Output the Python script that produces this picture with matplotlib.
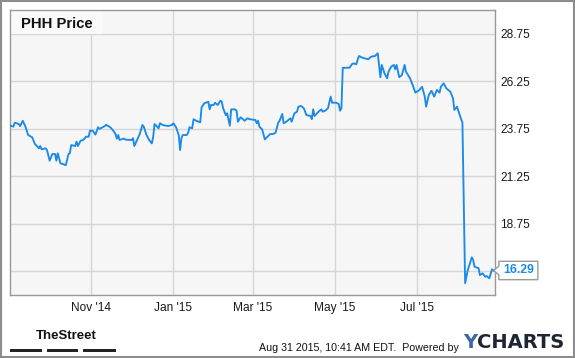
import pandas as pd
import numpy as np
import matplotlib.pyplot as plt
import matplotlib.dates as mdates
import matplotlib.transforms as mtransforms
from matplotlib.patches import Rectangle, Polygon

# days after 2014-09-01 and closing price
days = [1, 3, 4, 7, 8, 10, 12, 14, 17, 19, 22, 23, 24, 27, 28, 30, 32, 34, 35, 36,
        38, 40, 42, 44, 45, 46, 49, 50, 51, 53, 55, 57, 59, 60, 62, 64, 66, 67, 71, 72,
        75, 77, 79, 80, 81, 82, 85, 87, 91, 92, 93, 95, 97, 99, 100, 102, 104, 106, 107, 108,
        110, 111, 112, 114, 118, 121, 122, 124, 126, 127, 128, 129, 132, 133, 134, 136, 137, 139, 142, 143,
        145, 148, 149, 150, 152, 153, 155, 157, 158, 159, 161, 162, 164, 165, 168, 169, 170, 172, 173, 175,
        177, 179, 183, 184, 185, 186, 188, 189, 190, 192, 194, 196, 198, 200, 201, 203, 204, 206, 209, 210,
        212, 214, 215, 217, 219, 221, 224, 225, 226, 227, 230, 232, 233, 235, 237, 239, 240, 243, 245, 246,
        247, 248, 251, 253, 255, 256, 258, 260, 262, 264, 267, 269, 272, 274, 276, 277, 279, 281, 282, 284,
        286, 287, 288, 290, 292, 294, 295, 298, 300, 302, 305, 307, 309, 310, 312, 314, 316, 318, 320, 321,
        323, 325, 328, 330, 331, 333, 335, 337, 339, 341, 344, 345, 346, 349, 350, 352, 354, 355, 357, 359,
        360]
price = [23.91, 23.86, 24.07, 24.00, 23.89, 24.17, 23.86, 23.42, 23.30, 22.95, 22.72, 22.84, 22.67, 22.72, 22.63, 22.07, 22.42, 22.42, 22.07, 22.46,
         21.93, 21.89, 21.83, 22.42, 22.46, 22.89, 22.84, 23.07, 22.84, 23.12, 23.16, 23.33, 23.33, 23.65, 23.65, 23.44, 23.83, 23.74, 23.89, 23.96,
         23.83, 23.68, 23.47, 23.23, 23.42, 23.16, 23.23, 23.17, 23.16, 23.25, 22.84, 23.16, 23.47, 23.95, 23.86, 23.42, 23.16, 22.98, 23.33, 24.00,
         23.86, 23.77, 24.04, 23.95, 23.89, 23.95, 24.04, 23.83, 23.42, 22.63, 23.25, 23.42, 23.42, 23.54, 23.83, 23.77, 24.25, 24.17, 24.09, 24.88,
         25.09, 25.17, 24.77, 25.00, 25.00, 25.12, 25.00, 25.23, 25.17, 24.83, 24.47, 24.56, 23.91, 24.77, 24.77, 24.70, 24.12, 24.35, 24.30, 24.17,
         24.30, 24.25, 24.21, 24.04, 24.17, 23.86, 23.72, 23.47, 23.19, 23.33, 23.47, 23.47, 23.54, 24.07, 24.17, 24.53, 24.04, 24.12, 24.30, 24.12,
         24.56, 24.65, 24.91, 24.95, 24.83, 24.47, 24.42, 24.25, 24.77, 24.42, 24.65, 24.77, 24.65, 24.70, 24.83, 25.44, 25.12, 25.12, 25.05, 24.70,
         24.83, 26.96, 26.96, 26.96, 27.16, 27.19, 27.14, 27.58, 27.51, 27.46, 27.41, 27.54, 27.58, 27.72, 26.46, 27.11, 26.67, 26.41, 26.75, 27.02,
         27.11, 26.88, 27.11, 26.46, 26.58, 27.11, 26.75, 26.41, 26.05, 25.65, 25.79, 25.96, 25.44, 24.91, 25.53, 25.75, 25.44, 25.79, 25.65, 25.96,
         26.14, 25.88, 25.70, 25.35, 24.74, 24.91, 24.47, 24.07, 15.62, 16.32, 16.98, 16.84, 16.49, 16.41, 16.05, 16.14, 15.96, 16.00, 15.88, 16.35,
         16.29]

start = pd.Timestamp('2014-09-01')
dates = start + pd.to_timedelta(days, unit='D')

yticks = [16.25, 18.75, 21.25, 23.75, 26.25, 28.75]
xtick_dates = pd.to_datetime(['2014-11-01', '2015-01-01', '2015-03-01', '2015-05-01', '2015-07-01'])
xtick_labels = ["Nov '14", "Jan '15", "Mar '15", "May '15", "Jul '15"]

plt.rcParams['font.family'] = ['Liberation Sans', 'DejaVu Sans']

blue = '#1b8ae8'
fig = plt.figure(figsize=(5.75, 3.58), dpi=100)
fig.patches.append(Rectangle((0.002, 0.003), 0.996, 0.994, transform=fig.transFigure,
                             fill=False, edgecolor='#8c8c8c', linewidth=1.5))

ax = fig.add_axes([10 / 575, 1 - 295 / 358, 484.7 / 575, 285 / 358])
ax.set_facecolor('#f6f6f6')
ax.plot(dates, price, color=blue, linewidth=1.35, zorder=3)

ax.set_ylim(15, 30)
ax.set_xlim(start + pd.Timedelta(days=0.5), start + pd.Timedelta(days=361))
ax.set_yticks(yticks)
# the lowest label sits under the last-value flag in the original
ax.set_yticklabels([''] + ['%.2f' % v for v in yticks[1:]])
ax.set_xticks(xtick_dates)
ax.set_xticklabels(xtick_labels)
ax.yaxis.tick_right()
ax.tick_params(axis='y', length=0, pad=4, labelsize=8.6, labelcolor='#1a1a1a')
ax.tick_params(axis='x', length=0, pad=5, labelsize=8.6, labelcolor='#1a1a1a')
ax.grid(True, color='#d6d6d6', linewidth=1)
ax.set_axisbelow(True)
for s in ax.spines.values():
    s.set_color('#999999')
    s.set_linewidth(1)

# title box
ax.add_patch(Rectangle((0, 1 - 24 / 285), 93 / 484.7, 24 / 285, transform=ax.transAxes,
                       facecolor='#f9f9f9', edgecolor='none', zorder=2))
ax.text(10.7 / 484.7, 1 - 14 / 285, 'PHH Price', transform=ax.transAxes, fontsize=10.7,
        fontweight='bold', color='#111111', va='center', ha='left', zorder=4)

# last value flag
last_x = mdates.date2num(dates[-1])
trans = fig.dpi_scale_trans + mtransforms.ScaledTranslation(last_x, price[-1], ax.transData)
flag = Polygon([(0.005, 0), (0.055, 0.045), (0.055, 0.092), (0.445, 0.092), (0.445, -0.092),
                (0.055, -0.092), (0.055, -0.045)], closed=True, transform=trans,
               facecolor='white', edgecolor='#9a9a9a', linewidth=1, clip_on=False, zorder=5)
ax.add_patch(flag)
ax.text(0.25, 0.0, '%.2f' % price[-1], transform=trans, fontsize=8.8, fontweight='bold',
        color=blue, ha='center', va='center', clip_on=False, zorder=6)

# footer
fig.text(36 / 575, 1 - 336 / 358, 'TheStreet', fontsize=9.5, fontweight='bold',
         color='#111111', va='center', ha='left')
for x0, x1 in [(10, 42), (47, 78), (83, 115.5)]:
    fig.patches.append(Rectangle((x0 / 575, 1 - 352 / 358), (x1 - x0) / 575, 3.5 / 358,
                                 transform=fig.transFigure, facecolor='#222222', edgecolor='none'))
fig.text(459 / 575, 1 - 348 / 358, 'Aug 31 2015, 10:41 AM EDT.  Powered by', fontsize=7.7,
         color='#111111', va='center', ha='right')
y_logo = fig.text(463 / 575, 1 - 343 / 358, 'Y', fontsize=14, fontweight='bold',
                  family='DejaVu Sans', color='#3a66a6', va='center', ha='left')
ax.annotate('CHARTS', xy=(1, 0.5), xycoords=y_logo, va='center', ha='left',
            fontsize=14, fontweight='bold', family='DejaVu Sans', color='#1e2533',
            annotation_clip=False)

fig.savefig('out.png', dpi=100, facecolor='white')
